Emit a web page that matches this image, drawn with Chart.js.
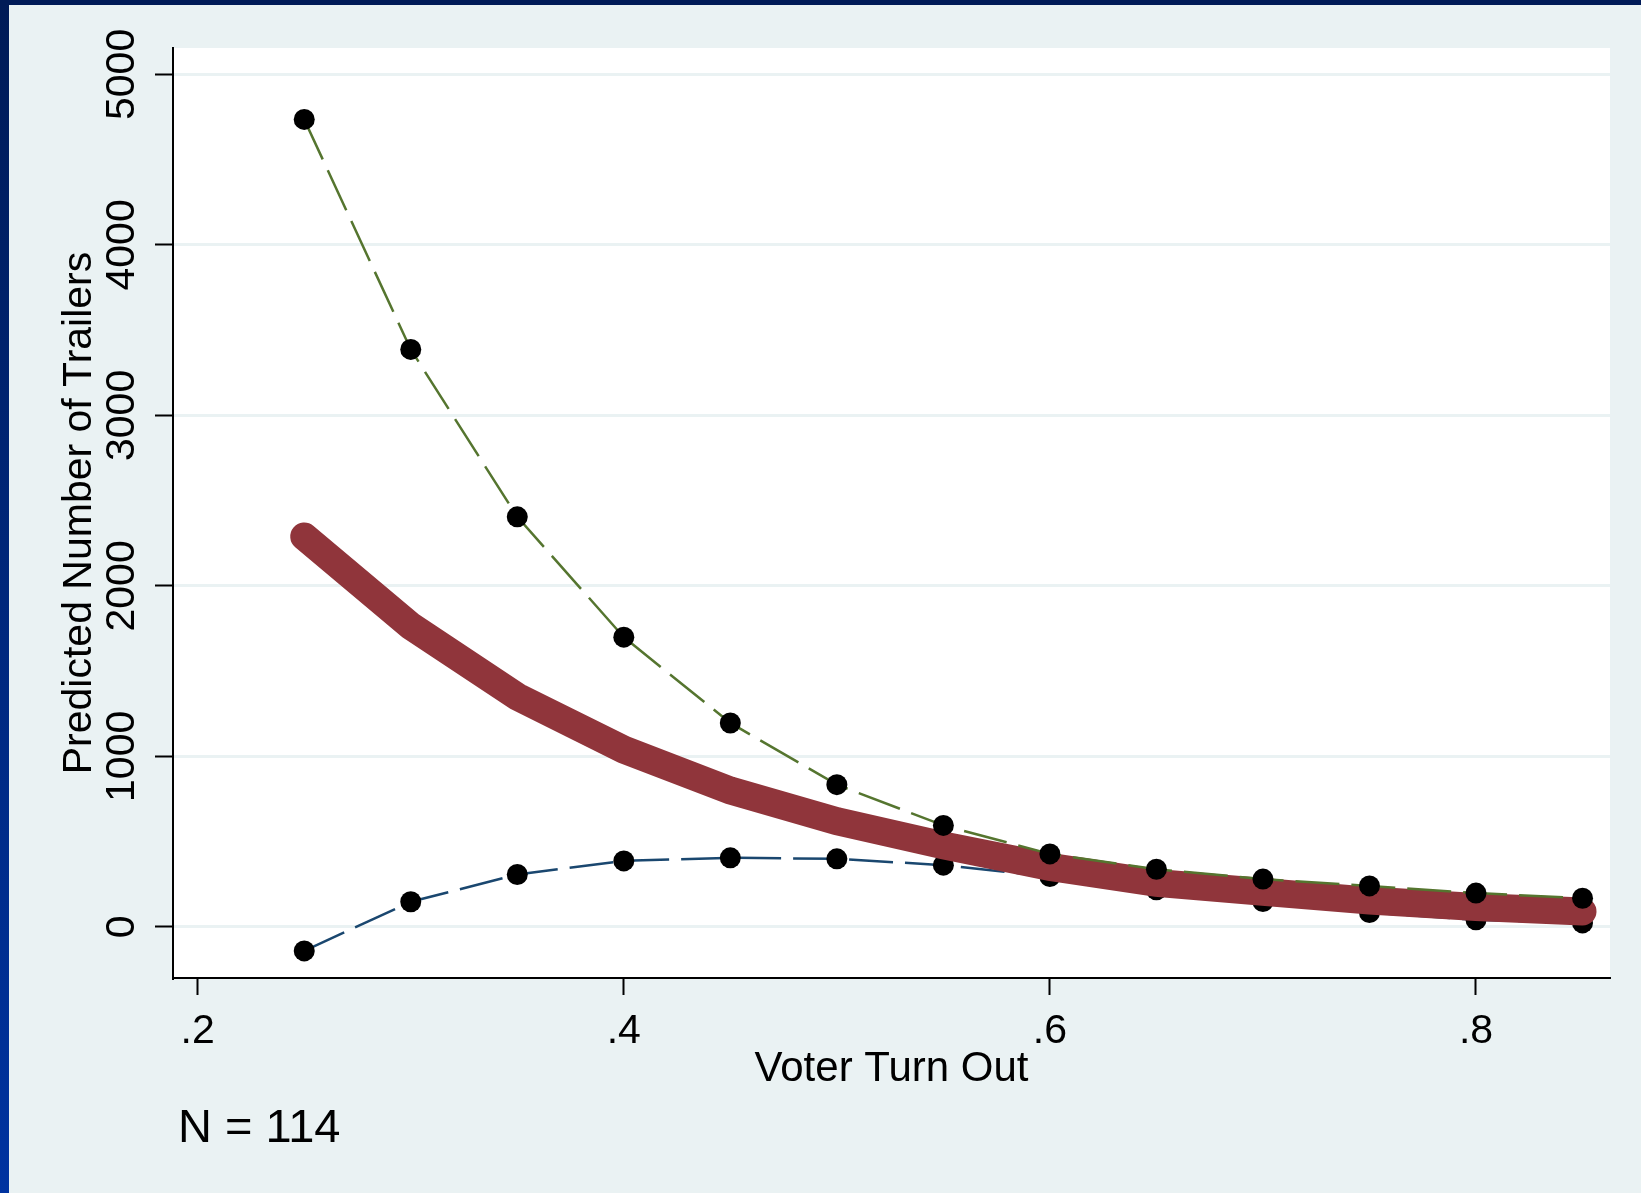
<!DOCTYPE html>
<html>
<head>
<meta charset="utf-8">
<script src="https://cdn.jsdelivr.net/npm/chart.js@4/dist/chart.umd.min.js"></script>
<style>
  html, body { margin: 0; padding: 0; background: #eaf2f3; }
  canvas { display: block; }
</style>
</head>
<body>
<canvas id="chart" width="1641" height="1193"></canvas>
<script>
// voter turnout values on the x axis
const turnout = [ 0.25, 0.30, 0.35, 0.40, 0.45, 0.50, 0.55, 0.60, 0.65, 0.70, 0.75, 0.80, 0.85 ];
// predicted number of trailers, upper bound / mean / lower bound
const upper = [ 4736, 3387, 2405, 1699, 1196, 834, 595, 428, 338, 280, 240, 198, 168 ];
const predicted = [ 2290, 1765, 1350, 1040, 800, 620, 478, 352, 258, 205, 154, 117, 90 ];
const lower = [ -141, 147, 307, 387, 405, 399, 362, 295, 217, 148, 84, 41, 23 ];

const yTicks = [ 0, 1000, 2000, 3000, 4000, 5000 ];
const xTicks = [ 0.2, 0.4, 0.6, 0.8 ];
const noteText = 'N = 114';

const FONT = 'Liberation Sans, Arial, Helvetica, sans-serif';
const FONT_SIZE = 41;

const toPoints = ( ys ) => turnout.map( ( x, i ) => ( { x: x, y: ys[ i ] } ) );

const background = {
  id: 'background',
  beforeDraw( chart ) {
    const { ctx, width, height, chartArea } = chart;
    ctx.save();
    // slide frame: dark band on top, blue strip on the left
    ctx.fillStyle = '#001b57';
    ctx.fillRect( 0, 0, width, 5 );
    const grad = ctx.createLinearGradient( 0, 0, 0, height );
    grad.addColorStop( 0, '#001b57' );
    grad.addColorStop( 1, '#0033a0' );
    ctx.fillStyle = grad;
    ctx.fillRect( 0, 5, 9, height - 5 );
    ctx.fillStyle = '#eaf2f3';
    ctx.fillRect( 9, 5, width - 9, height - 5 );
    ctx.fillStyle = '#ffffff';
    ctx.fillRect( chartArea.left, chartArea.top,
      chartArea.right - chartArea.left, chartArea.bottom - chartArea.top );
    ctx.restore();
  }
};

// y tick labels are rotated like the axis title
const rotatedLabels = {
  id: 'rotatedLabels',
  afterDraw( chart ) {
    const { ctx } = chart;
    const y = chart.scales.y;
    ctx.save();
    ctx.fillStyle = '#000';
    ctx.font = FONT_SIZE + 'px ' + FONT;
    ctx.textAlign = 'center';
    ctx.textBaseline = 'middle';
    yTicks.forEach( ( v ) => {
      ctx.save();
      ctx.translate( 123, y.getPixelForValue( v ) );
      ctx.rotate( -Math.PI / 2 );
      ctx.fillText( String( v ), 0, 0 );
      ctx.restore();
    } );
    ctx.textAlign = 'left';
    ctx.font = '47px ' + FONT;
    ctx.fillText( noteText, 178, 1129 );
    ctx.restore();
  }
};

const dashed = ( data, color, order ) => ( {
  data: toPoints( data ),
  borderColor: color,
  borderWidth: 2.5,
  borderDash: [ 44, 12 ],
  pointRadius: 10.5,
  pointBackgroundColor: '#000',
  pointBorderWidth: 0,
  order: order,
} );

new Chart( document.getElementById( 'chart' ), {
  type: 'line',
  data: {
    datasets: [
      dashed( upper, '#55752f', 1 ),
      {
        data: toPoints( predicted ),
        borderColor: '#90353b',
        borderWidth: 28,
        borderCapStyle: 'round',
        borderJoinStyle: 'miter',
        pointRadius: 0,
        order: 2,
      },
      dashed( lower, '#1a476f', 3 ),
    ]
  },
  options: {
    responsive: false,
    animation: false,
    layout: { padding: { top: 48, right: 31, left: 0, bottom: 0 } },
    plugins: {
      legend: { display: false },
      tooltip: { enabled: false },
    },
    elements: { line: { tension: 0 } },
    scales: {
      x: {
        type: 'linear',
        min: 0.1884,
        max: 0.8629,
        afterBuildTicks: ( scale ) => { scale.ticks = xTicks.map( ( v ) => ( { value: v } ) ); },
        afterFit: ( scale ) => { scale.height = 215; },
        border: { display: true, color: '#000', width: 2 },
        grid: {
          drawOnChartArea: false,
          drawTicks: true,
          tickLength: 17,
          tickColor: '#000',
          tickWidth: 2,
        },
        ticks: {
          color: '#000',
          padding: 12,
          font: { family: FONT, size: FONT_SIZE },
          callback: ( v ) => '.' + Math.round( v * 10 ),
        },
        title: {
          display: true,
          text: 'Voter Turn Out',
          color: '#000',
          font: { family: FONT, size: 42 },
          padding: { top: 0, bottom: 98 },
        },
      },
      y: {
        min: -300,
        max: 5155,
        afterBuildTicks: ( scale ) => { scale.ticks = yTicks.map( ( v ) => ( { value: v } ) ); },
        afterFit: ( scale ) => { scale.width = 173; },
        border: { display: true, color: '#000', width: 2 },
        grid: {
          color: '#eaf2f3',
          lineWidth: 3,
          drawTicks: true,
          tickLength: 18,
          tickColor: '#000',
          tickWidth: 2,
        },
        ticks: { display: false },
        title: {
          display: true,
          text: 'Predicted Number of Trailers',
          color: '#000',
          font: { family: FONT, size: FONT_SIZE },
          padding: { top: 55, bottom: 0 },
        },
      }
    }
  },
  plugins: [ background, rotatedLabels ]
} );
</script>
</body>
</html>
